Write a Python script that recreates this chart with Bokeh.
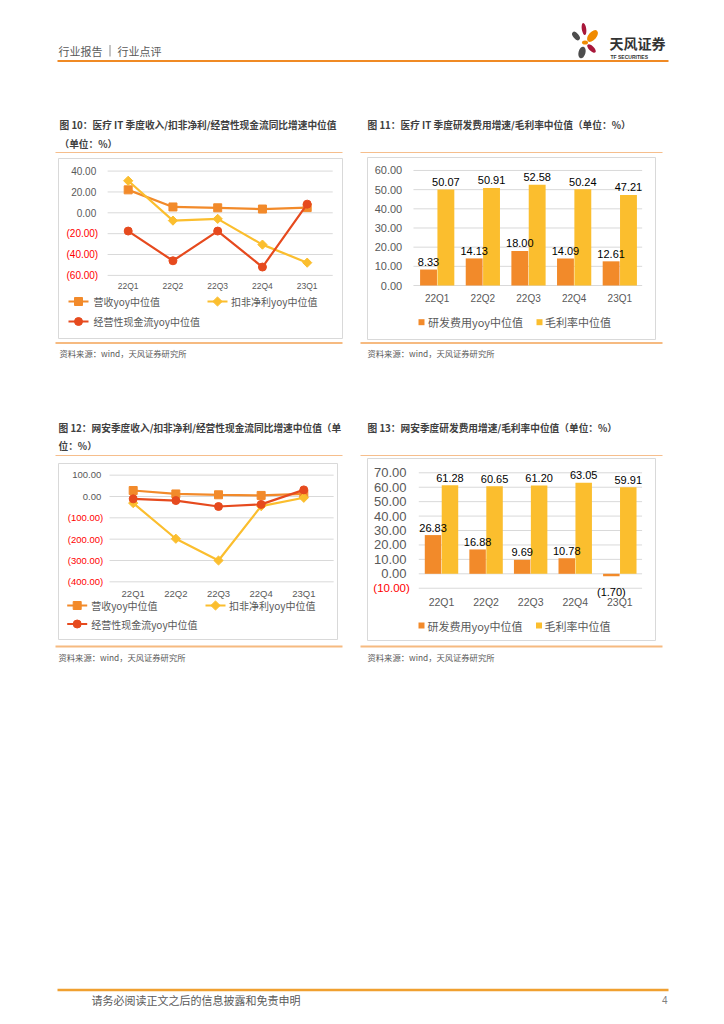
from bokeh.plotting import figure
from bokeh.models import Range1d
from bokeh.embed import file_html
from bokeh.resources import INLINE
from bokeh.core.properties import value

# ---------------- data ----------------
categories = ["22Q1", "22Q2", "22Q3", "22Q4", "23Q1"]

# 图10 医疗IT (line)
med_rev = [22.0, 5.6, 4.8, 3.6, 5.0]
med_np = [30.7, -7.5, -5.8, -30.5, -47.8]
med_cf = [-17.5, -46.0, -17.5, -52.0, 8.3]
med_line_ticks = [40, 20, 0, -20, -40, -60]

# 图11 医疗IT (bar)
med_rd = [8.33, 14.13, 18.00, 14.09, 12.61]
med_gm = [50.07, 50.91, 52.58, 50.24, 47.21]
med_bar_ticks = [60, 50, 40, 30, 20, 10, 0]

# 图12 网安 (line)
sec_rev = [28.0, 12.0, 8.0, 5.0, 12.0]
sec_np = [-31.0, -198.0, -300.0, -45.0, -6.0]
sec_cf = [-11.0, -19.0, -47.0, -37.0, 31.0]
sec_line_ticks = [100, 0, -100, -200, -300, -400]

# 图13 网安 (bar)
sec_rd = [26.83, 16.88, 9.69, 10.78, -1.70]
sec_gm = [61.28, 60.65, 61.20, 63.05, 59.91]
sec_bar_ticks = [70, 60, 50, 40, 30, 20, 10, 0, -10]

line_names = ["营收yoy中位值", "扣非净利yoy中位值", "经营性现金流yoy中位值"]
bar_names = ["研发费用yoy中位值", "毛利率中位值"]

titles = {
    "c1": ["图 10：医疗 IT 季度收入/扣非净利/经营性现金流同比增速中位值", "（单位：%）"],
    "c2": ["图 11：医疗 IT 季度研发费用增速/毛利率中位值（单位：%）"],
    "c3": ["图 12：网安季度收入/扣非净利/经营性现金流同比增速中位值（单", "位：%）"],
    "c4": ["图 13：网安季度研发费用增速/毛利率中位值（单位：%）"],
}
source_text = "资料来源：wind，天风证券研究所"

# ---------------- styles ----------------
ORANGE = "#F28A2A"
YELLOW = "#FBBE2E"
RED = "#E64A1E"
GRID = "#D9D9D9"
GRAY = "#595959"
CJK = value("Noto Sans CJK SC")
LAT = value("Liberation Sans")

X0, X1, Y0, Y1 = 0, 708, 0, 1008

p = figure(width=708, height=1008, x_range=Range1d(X0, X1), y_range=Range1d(Y1, Y0),
           output_backend="svg", toolbar_location=None, min_border=0,
           x_axis_location=None, y_axis_location=None)
p.grid.visible = False
p.outline_line_color = None
p.background_fill_color = "white"


def fmt(v):
    return f"{v:.2f}" if v >= 0 else f"({-v:.2f})"


# chart geometry: (first category px, px per category, px of zero, px per unit)
geo = {
    "c1": dict(a=127.7, step=44.75, y0=212.3, s=1.043),
    "c2": dict(a=436.7, step=45.65, y0=285.0, s=1.917),
    "c3": dict(a=132.7, step=42.65, y0=496.0, s=0.2133),
    "c4": dict(a=441.0, step=44.575, y0=573.3, s=1.443),
}
xr, yr = {}, {}
for k, g in geo.items():
    xr[k] = Range1d((X0 - g["a"]) / g["step"], (X1 - g["a"]) / g["step"])
    yr[k] = Range1d((g["y0"] - Y1) / g["s"], (g["y0"] - Y0) / g["s"])
p.extra_x_ranges = xr
p.extra_y_ranges = yr

idx = list(range(len(categories)))

# ---------------- page header / footer ----------------
p.text(x=[58, 117], y=[50, 50], text=["行业报告", "行业点评"], text_font=CJK, text_font_size="11px",
       text_color=GRAY, text_baseline="middle")
p.segment(x0=[109.5], x1=[109.5], y0=[44.5], y1=[56], line_color="#8C8C8C", line_width=1)
p.segment(x0=[57], x1=[668], y0=[60.5], y1=[60.5], line_color="#F08A24", line_width=2)
# logo petals
p.ellipse(x=[583.5], y=[28.5], width=[4.5], height=[12], angle=[0.15], fill_color="#A8173A", line_color=None)
p.ellipse(x=[575.5], y=[35.5], width=[5.5], height=[10], angle=[0.7], fill_color="#4D4D4D", line_color=None)
p.ellipse(x=[592], y=[35.5], width=[8], height=[14], angle=[-0.7], fill_color="#F08A00", line_color=None)
p.ellipse(x=[584.5], y=[42], width=[6], height=[4], angle=[0.0], fill_color="#F08A00", line_color=None)
p.ellipse(x=[591], y=[48], width=[5], height=[11], angle=[0.8], fill_color="#A8173A", line_color=None)
p.ellipse(x=[581.5], y=[52], width=[7], height=[12], angle=[-0.25], fill_color="#4D4D4D", line_color=None)
p.text(x=[609], y=[42], text=["天风证券"], text_font=CJK, text_font_size="14px",
       text_font_style="bold", text_color="#333333", text_baseline="middle")
p.text(x=[610], y=[56], text=["TF SECURITIES"], text_font=LAT, text_font_size="5px",
       text_font_style="bold", text_color="#333333", text_baseline="middle")

p.segment(x0=[57], x1=[668], y0=[989.5], y1=[989.5], line_color="#F0A030", line_width=2.5)
p.text(x=[91], y=[999.5], text=["请务必阅读正文之后的信息披露和免责申明"], text_font=CJK,
       text_font_size="11px", text_color=GRAY, text_baseline="middle")
p.text(x=[667], y=[999.5], text=["4"], text_font=LAT, text_font_size="10px",
       text_color="#808080", text_baseline="middle", text_align="right")

# ---------------- frames, titles, sources ----------------
frames = {
    "c1": dict(tx=59, ty=[124, 143.5], lx=(55, 342), ltop=152, box=(58, 342, 158, 338), lbot=342.5, src=352),
    "c2": dict(tx=367, ty=[124], lx=(360, 662), ltop=152, box=(367, 655, 157, 339), lbot=342.5, src=352),
    "c3": dict(tx=58, ty=[427, 445], lx=(55, 342), ltop=455, box=(58, 337, 463, 639), lbot=646, src=656.5),
    "c4": dict(tx=367, ty=[427], lx=(360, 662), ltop=455, box=(367, 655, 458, 640), lbot=646, src=656.5),
}
for k, f in frames.items():
    p.text(x=[f["tx"]] * len(titles[k]), y=f["ty"], text=titles[k], text_font=CJK,
           text_font_size="9.7px", text_font_style="bold", text_color="#404040",
           text_baseline="middle")
    p.segment(x0=[f["lx"][0]], x1=[f["lx"][1]], y0=[f["ltop"]], y1=[f["ltop"]],
              line_color="#F6BE8C", line_width=1.2)
    l, r, t, b = f["box"]
    p.quad(left=[l], right=[r], top=[t], bottom=[b], fill_color=None, line_color=GRID, line_width=1)
    p.segment(x0=[f["lx"][0]], x1=[f["lx"][1]], y0=[f["lbot"]], y1=[f["lbot"]],
              line_color="#F6BA80", line_width=2)
    p.text(x=[f["tx"]], y=[f["src"]], text=[source_text], text_font=CJK, text_font_size="8.3px",
           text_color=GRAY, text_baseline="middle")

# ---------------- axes (grid, tick labels, category labels) ----------------
axes = {
    "c1": dict(ticks=med_line_ticks, gx=(-0.46, 4.57), xpos=95.7, xneg=97.7, fs="10px", nfs="10px", cy=285.7, cfs="8.5px"),
    "c2": dict(ticks=med_bar_ticks, gx=(-0.52, 4.49), xpos=401.7, xneg=403.7, fs="11px", nfs="11px", cy=297.7, cfs="10px"),
    "c3": dict(ticks=sec_line_ticks, gx=(-0.555, 4.70), xpos=100.7, xneg=102.7, fs="9.5px", nfs="9.5px", cy=592.7, cfs="9.5px"),
    "c4": dict(ticks=sec_bar_ticks, gx=(-0.51, 4.50), xpos=406.0, xneg=409.3, fs="13px", nfs="11.5px", cy=601.0, cfs="10.5px"),
}
for k, ax in axes.items():
    t = ax["ticks"]
    n = len(t)
    p.segment(x0=[ax["gx"][0]] * n, x1=[ax["gx"][1]] * n, y0=t, y1=t, x_range_name=k,
              y_range_name=k, line_color=GRID, line_width=1)
    p.text(x=[ax["xneg"] if v < 0 else ax["xpos"] for v in t], y=t, text=[fmt(v) for v in t],
           y_range_name=k, text_align="right", text_baseline="middle", text_font=LAT,
           text_font_size=[ax["nfs"] if v < 0 else ax["fs"] for v in t],
           text_color=["#FF0000" if v < 0 else GRAY for v in t])
    p.text(x=idx, y=[ax["cy"]] * len(idx), text=categories, x_range_name=k, text_align="center",
           text_baseline="middle", text_font=LAT, text_font_size=ax["cfs"], text_color=GRAY)

# ---------------- line charts ----------------
line_sets = {
    "c1": [med_rev, med_np, med_cf],
    "c3": [sec_rev, sec_np, sec_cf],
}
styles = [(ORANGE, "square", 8, 0.0), (YELLOW, "square", 6.5, 0.785), (RED, "circle", 8, 0.0)]
legend_pos = {
    "c1": [(68, 301, 93), (207, 301, 230.5), (68, 321, 93)],
    "c3": [(66.7, 605, 90.7), (205, 605, 228.5), (66.7, 623.5, 90.7)],
}
for k, series in line_sets.items():
    for vals, (col, mk, sz, ang) in zip(series, styles):
        p.line(x=idx, y=vals, x_range_name=k, y_range_name=k, line_color=col, line_width=2.2)
        p.scatter(x=idx, y=vals, x_range_name=k, y_range_name=k, marker=mk, size=sz,
                  angle=ang, fill_color=col, line_color=col)
    for name, (col, mk, sz, ang), (lx, ly, tx) in zip(line_names, styles, legend_pos[k]):
        p.segment(x0=[lx], x1=[lx + 20], y0=[ly], y1=[ly], line_color=col, line_width=2.2)
        p.scatter(x=[lx + 10], y=[ly], marker=mk, size=sz, angle=ang, fill_color=col, line_color=col)
        p.text(x=[tx], y=[ly], text=[name], text_font=CJK, text_font_size="10px",
               text_color=GRAY, text_baseline="middle")

# ---------------- bar charts ----------------
bar_sets = {
    "c2": (med_rd, med_gm, [(421, 427.5), (539, 544.5)], 321.7),
    "c4": (sec_rd, sec_gm, [(421, 427), (538.5, 544)], 625.0),
}
OFF, BW = 0.19, 0.37
for k, (rd, gm, leg, ly) in bar_sets.items():
    xo = [i - OFF for i in idx]
    xy = [i + OFF for i in idx]
    p.vbar(x=xo, top=rd, bottom=0, width=BW, x_range_name=k, y_range_name=k,
           fill_color=ORANGE, line_color=None)
    p.vbar(x=xy, top=gm, bottom=0, width=BW, x_range_name=k, y_range_name=k,
           fill_color=YELLOW, line_color=None)
    for xs, vals in ((xo, rd), (xy, gm)):
        p.text(x=xs, y=vals, text=[fmt(v) for v in vals], x_range_name=k, y_range_name=k,
               text_align="center", text_baseline="alphabetic", text_font=LAT,
               text_font_size="11px", text_color="#000000",
               y_offset=[16 if v < 0 else -7.5 for v in vals])
    for name, col, (sx, tx) in zip(bar_names, (ORANGE, YELLOW), leg):
        p.scatter(x=[sx], y=[ly], marker="square", size=6, fill_color=col, line_color=None)
        p.text(x=[tx], y=[ly], text=[name], text_font=CJK, text_font_size="11px",
               text_color=GRAY, text_baseline="middle")

open("out.html", "w").write(file_html(p, INLINE))
